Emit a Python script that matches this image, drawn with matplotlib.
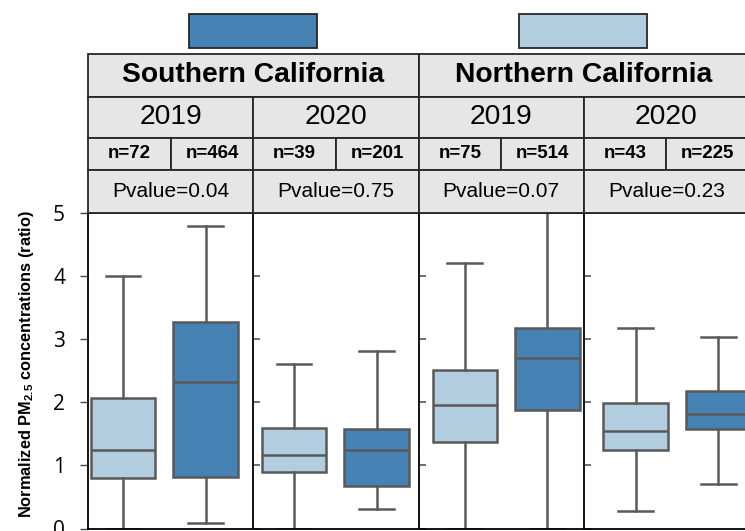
import matplotlib
matplotlib.use('Agg')
import matplotlib.pyplot as plt
from matplotlib.patches import Rectangle

# Values
regions = ['Southern California', 'Northern California']
years = ['2019', '2020', '2019', '2020']
n_light = [72, 39, 75, 43]
n_dark = [464, 201, 514, 225]
pvalues = [0.04, 0.75, 0.07, 0.23]

# box stats per panel: lower whisker, Q1, median, Q3, upper whisker
light_low = [0.0, 0.0, 0.0, 0.27]
light_q1 = [0.80, 0.90, 1.37, 1.24]
light_med = [1.24, 1.16, 1.95, 1.54]
light_q3 = [2.07, 1.60, 2.51, 1.99]
light_high = [4.00, 2.61, 4.20, 3.17]

dark_low = [0.08, 0.31, 0.0, 0.71]
dark_q1 = [0.81, 0.67, 1.88, 1.58]
dark_med = [2.32, 1.24, 2.70, 1.81]
dark_q3 = [3.28, 1.58, 3.17, 2.18]
dark_high = [4.79, 2.81, 5.60, 3.04]

y_ticks = [0, 1, 2, 3, 4, 5]

light_color = '#b3cde0'
dark_color = '#4682b4'
line_color = '#595959'
cell_color = '#e6e6e6'
border_color = '#262626'

plt.rcParams['mathtext.fontset'] = 'custom'
plt.rcParams['mathtext.bf'] = 'Liberation Sans:bold'

W, H = 745, 531
fig = plt.figure(figsize=(W / 100, H / 100), dpi=100)

# plot area (pixel geometry)
left_px, right_px = 88, 749
top_px, bottom_px = 213, 528.5
ax = fig.add_axes([left_px / W, (H - bottom_px) / H,
                   (right_px - left_px) / W, (bottom_px - top_px) / H])


def make_stats(low, q1, med, q3, high):
    return [dict(whislo=a, q1=b, med=c, q3=d, whishi=e, fliers=[])
            for a, b, c, d, e in zip(low, q1, med, q3, high)]


light_pos = [0.212 + 1.034 * g for g in range(4)]
dark_pos = [p + 0.5 for p in light_pos]

lw = 1.8
box_kw = dict(widths=0.39, capwidths=0.21, patch_artist=True, showfliers=False,
              whiskerprops=dict(color=line_color, lw=lw),
              capprops=dict(color=line_color, lw=lw),
              medianprops=dict(color=line_color, lw=lw),
              manage_ticks=False)

ax.bxp(make_stats(light_low, light_q1, light_med, light_q3, light_high),
       positions=light_pos,
       boxprops=dict(facecolor=light_color, edgecolor=line_color, lw=lw), **box_kw)
ax.bxp(make_stats(dark_low, dark_q1, dark_med, dark_q3, dark_high),
       positions=dark_pos,
       boxprops=dict(facecolor=dark_color, edgecolor=line_color, lw=lw), **box_kw)

ax.set_xlim(0, 4)
ax.set_ylim(0, 5)
ax.set_xticks([])
ax.set_yticks(y_ticks)
ax.set_yticklabels([str(t) for t in y_ticks], fontsize=15, fontname='Open Sans')
ax.tick_params(axis='y', direction='out', length=5.5, width=1, color='#444444', pad=11)
for s in ax.spines.values():
    s.set_color('black')
    s.set_linewidth(1.3)

# panel dividers and the small tick stubs each sub-panel carried
for xd in [1, 2, 3]:
    ax.axvline(xd, color='black', lw=1.3)
    ax.plot([xd + 0.025] * len(y_ticks), y_ticks, ls='none', marker='_',
            ms=4, mew=1.2, color='#555555', clip_on=False)

ax.set_ylabel('Normalized PM$_{\\mathbf{2.5}}$ concentrations (ratio)',
              fontsize=11.8, fontweight='bold', fontname='Liberation Sans')
ax.yaxis.set_label_coords(-0.078, 0.52)

# header table above the plot
h_top, h_bot = 54.3, 213
hax = fig.add_axes([left_px / W, (H - h_bot) / H,
                    (right_px - left_px) / W, (h_bot - h_top) / H])
hax.set_xlim(0, 4)
hax.set_ylim(h_bot - h_top, 0)
hax.axis('off')
rows = [0, 42.4, 83.4, 115.7, 158.7]


def cell(x0, x1, r, text, **kw):
    y0, y1 = rows[r], rows[r + 1]
    hax.add_patch(Rectangle((x0, y0), x1 - x0, y1 - y0, facecolor=cell_color,
                            edgecolor=border_color, lw=1.3, clip_on=False))
    hax.text((x0 + x1) / 2, (y0 + y1) / 2, text, ha='center', va='center',
             fontname='Liberation Sans', **kw)


for i, reg in enumerate(regions):
    cell(2 * i, 2 * i + 2, 0, reg, fontsize=20.3, fontweight='bold')
for g in range(4):
    cell(g, g + 1, 1, years[g], fontsize=20.3)
    cell(g, g + 0.5, 2, f'n={n_light[g]}', fontsize=13.5, fontweight='bold')
    cell(g + 0.5, g + 1, 2, f'n={n_dark[g]}', fontsize=13.5, fontweight='bold')
    cell(g, g + 1, 3, f'Pvalue={pvalues[g]:.2f}', fontsize=15)

# colour key patches above the regions (no labels in the original)
for xc, col in [(1, dark_color), (3, light_color)]:
    hax.add_patch(Rectangle((xc - 0.39, -40.3), 0.775, 33.7, facecolor=col,
                            edgecolor=border_color, lw=1.3, clip_on=False))

fig.savefig('out.png', dpi=100)
plt.close(fig)
